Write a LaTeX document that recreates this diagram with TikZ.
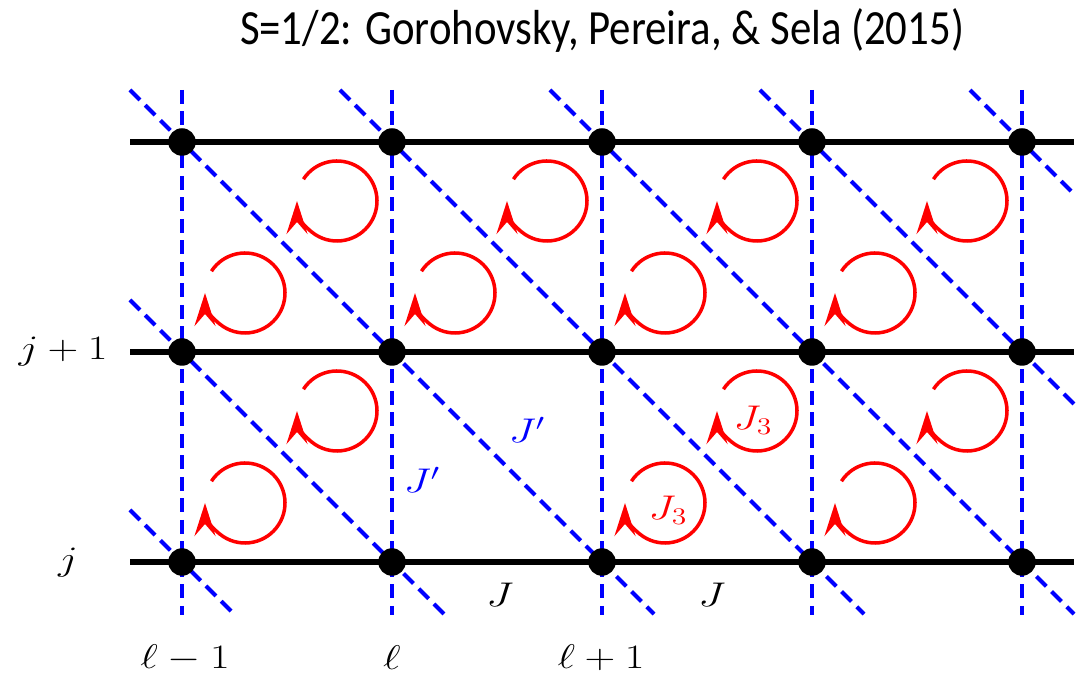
\documentclass[tikz,border=0pt]{standalone}
\usepackage{fontspec}
\newfontfamily\titlefont[FakeStretch=0.87]{Carlito}
\usetikzlibrary{arrows.meta,backgrounds}
\newcommand{\lbl}[1]{\scalebox{1.17}[0.94]{$#1$}}
\begin{document}
\begin{tikzpicture}[x=0.02cm,y=0.02cm,
  dot/.style={circle,fill=black,inner sep=0pt,minimum size=0.55cm},
  hline/.style={line width=3pt,black},
  bond/.style={blue,line width=2.3pt,dash pattern=on 0.28cm off 0.15cm},
  loop/.style={red,line width=2pt,-{Stealth[length=0.66cm,width=0.42cm,inset=0.24cm]}},
  lab/.style={font=\fontsize{20.74}{24}\selectfont},
]
\useasboundingbox (0,0) rectangle (1089,676);
% sites
\foreach \c/\x in {1/182,2/392,3/602,4/812,5/1022}
  \foreach \r/\y in {1/114,2/324,3/534}
    \node[dot] (n\c\r) at (\x,\y) {};
% free ends
\foreach \r/\y in {1/114,2/324,3/534} {
  \coordinate (hl\r) at (130,\y);
  \coordinate (hr\r) at (1074,\y);
}
\foreach \c/\x in {1/182,2/392,3/602,4/812,5/1022} {
  \coordinate (vt\c) at (\x,586);
  \coordinate (vb\c) at (\x,61);
}
\coordinate (d1s) at (130,586); \coordinate (d1e) at (654,62);
\coordinate (d2s) at (340,586); \coordinate (d2e) at (864,62);
\coordinate (d3s) at (550,586); \coordinate (d3e) at (1074,62);
\coordinate (d4s) at (760,586); \coordinate (d4e) at (1074,272);
\coordinate (d5s) at (970,586); \coordinate (d5e) at (1074,482);
\coordinate (d6s) at (130,376); \coordinate (d6e) at (444,62);
\coordinate (d7s) at (130,166); \coordinate (d7e) at (234,62);
\begin{pgfonlayer}{background}
\foreach \r in {1,2,3}
  \draw[hline] (hl\r) -- (n1\r.center) -- (n2\r.center) -- (n3\r.center) -- (n4\r.center) -- (n5\r.center) -- (hr\r);
\foreach \c in {1,...,5}
  \draw[bond] (vt\c) -- (n\c3.center) -- (n\c2.center) -- (n\c1.center) -- (vb\c);
\draw[bond] (d1s) -- (n13.center) -- (n22.center) -- (n31.center) -- (d1e);
\draw[bond] (d2s) -- (n23.center) -- (n32.center) -- (n41.center) -- (d2e);
\draw[bond] (d3s) -- (n33.center) -- (n42.center) -- (n51.center) -- (d3e);
\draw[bond] (d4s) -- (n43.center) -- (n52.center) -- (d4e);
\draw[bond] (d5s) -- (n53.center) -- (d5e);
\draw[bond] (d6s) -- (n12.center) -- (n21.center) -- (d6e);
\draw[bond] (d7s) -- (n11.center) -- (d7e);
\end{pgfonlayer}
% plaquette loops
\foreach \x/\y in {337/475,547/475,757/475,967/475,337/265,757/265,967/265,
                   245/383,455/383,665/383,875/383,245/173,665/173,875/173}
  \draw[loop] (\x,\y) ++(147:40) arc[start angle=147,end angle=-180,radius=40];
% labels
\node[lab] (lj1) at (63,324) {\lbl{j+1}};
\node[lab] (lj) at (68,113) {\lbl{j}};
\node[lab] (lc1) at (185,18) {\lbl{\ell-1}};
\node[lab] (lc2) at (392,18) {\lbl{\ell}};
\node[lab] (lc3) at (601,18) {\lbl{\ell+1}};
\node[lab] (J1) at (500,81) {\lbl{J}};
\node[lab] (J2) at (712,81) {\lbl{J}};
\node[lab,blue] (Jp1) at (527,246) {\lbl{J'}};
\node[lab,blue] (Jp2) at (422,196) {\lbl{J'}};
\node[lab,red] (J3a) at (753,256) {\lbl{J_3}};
\node[lab,red] (J3b) at (668,166) {\lbl{J_3}};
\node[font=\titlefont\fontsize{28}{34}\selectfont] (title) at (602,646) {S=1/2: Gorohovsky, Pereira, \& Sela (2015)};
\end{tikzpicture}
\end{document}
